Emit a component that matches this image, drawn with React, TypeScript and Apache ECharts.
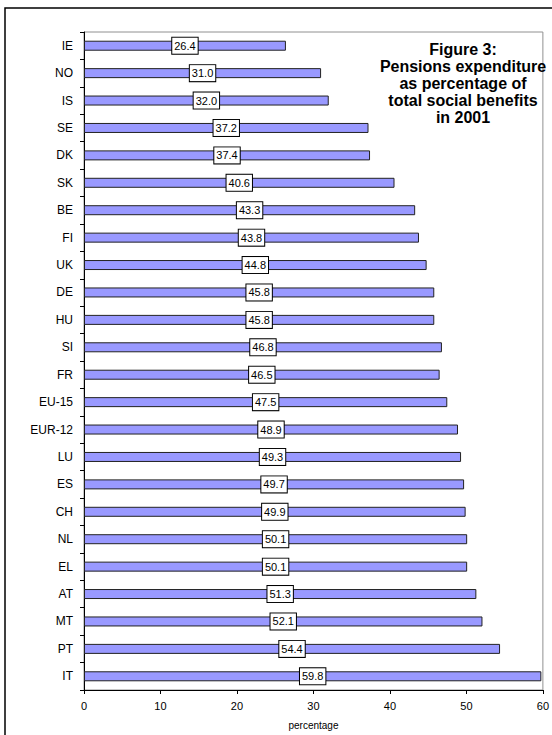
import React, { useEffect, useRef } from "react";
import * as echarts from "echarts";

const categories = ["IE", "NO", "IS", "SE", "DK", "SK", "BE", "FI", "UK", "DE", "HU", "SI", "FR", "EU-15", "EUR-12", "LU", "ES", "CH", "NL", "EL", "AT", "MT", "PT", "IT"];
const values = [26.4, 31.0, 32.0, 37.2, 37.4, 40.6, 43.3, 43.8, 44.8, 45.8, 45.8, 46.8, 46.5, 47.5, 48.9, 49.3, 49.7, 49.9, 50.1, 50.1, 51.3, 52.1, 54.4, 59.8];
const xTicks = { min: 0, max: 60, interval: 10 };
const titleLines = ["Figure 3:", "Pensions expenditure", "as percentage of", "total social benefits", "in 2001"];
const xAxisName = "percentage";

export default function App() {
  const ref = useRef<HTMLDivElement>(null);
  useEffect(() => {
    if (!ref.current) return;
    const chart = echarts.init(ref.current, null, { renderer: "svg" });
    chart.setOption({
      animation: false,
      backgroundColor: "#ffffff",
      textStyle: { fontFamily: "Liberation Sans, Arial, sans-serif" },
      grid: {
        left: 84,
        top: 32,
        right: 6,
        bottom: 42,
        show: true,
        borderColor: "#909090",
        borderWidth: 1,
        backgroundColor: "transparent",
      },
      graphic: [
        {
          type: "rect",
          shape: { x: 5, y: 8, width: 700, height: 900 },
          style: { fill: "none", stroke: "#000", lineWidth: 1.5 },
          silent: true,
          z: -1,
        },
        {
          type: "text",
          x: 463,
          y: 41,
          z: 10,
          style: {
            text: titleLines.join("\n"),
            fontFamily: "Liberation Sans, Arial, sans-serif",
            fontWeight: "bold",
            fontSize: 16,
            lineHeight: 17,
            align: "center",
            verticalAlign: "top",
            fill: "#000",
          },
        },
      ],
      xAxis: {
        type: "value",
        min: xTicks.min,
        max: xTicks.max,
        interval: xTicks.interval,
        name: xAxisName,
        nameLocation: "middle",
        nameGap: 30,
        nameTextStyle: { fontSize: 10, color: "#000" },
        axisLine: { show: true, lineStyle: { color: "#000", width: 1 } },
        axisTick: { show: true, length: 4, lineStyle: { color: "#000" } },
        axisLabel: { fontSize: 11, color: "#000", margin: 10 },
        splitLine: { show: false },
      },
      yAxis: {
        type: "category",
        data: categories,
        inverse: true,
        axisLine: { show: true, lineStyle: { color: "#000", width: 1 } },
        axisTick: { show: true, length: 4, lineStyle: { color: "#000" } },
        axisLabel: { fontSize: 12, color: "#000", margin: 11 },
      },
      series: [
        {
          type: "bar",
          data: values,
          barWidth: 10,
          itemStyle: { color: "#9999FF", borderColor: "#222", borderWidth: 1 },
          label: {
            show: true,
            position: "inside",
            formatter: (p: any) => p.value.toFixed(1),
            fontSize: 11,
            color: "#000",
            backgroundColor: "#fff",
            borderColor: "#000",
            borderWidth: 1,
            padding: [3, 2, 2, 2],
          },
        },
      ],
    });
    return () => chart.dispose();
  }, []);
  return <div ref={ref} style={{ position: "fixed", left: 0, top: 0, width: 552, height: 735 }} />;
}
